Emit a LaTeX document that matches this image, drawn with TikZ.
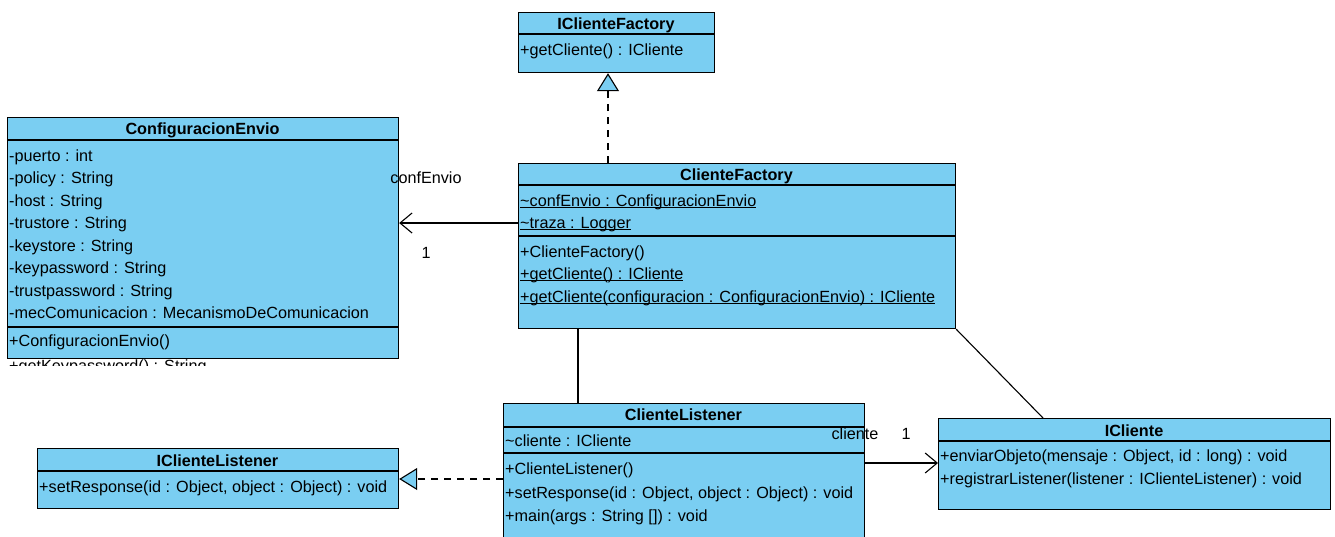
\documentclass[tikz,border=0pt]{standalone}
\usepackage{fontspec}
\setmainfont{Liberation Sans}
\usetikzlibrary{arrows.meta}
\definecolor{boxblue}{RGB}{122,206,242}
\tikzset{
  umlbox/.style={draw=black, fill=boxblue, line width=1.2pt, anchor=north west, inner sep=0pt},
  sep/.style={line width=1.2pt},
  txt/.style={anchor=base west, inner sep=0pt, font=\fontsize{16.2}{18}\selectfont},
  hdr/.style={anchor=base, inner sep=0pt, font=\fontsize{16.2}{18}\selectfont\bfseries},
  lbl/.style={anchor=base, inner sep=0pt, font=\fontsize{16.2}{18}\selectfont},
  conn/.style={line width=1.1pt},
  assoc/.style={conn, -{Straight Barb[length=12pt,width=20pt,line width=1.1pt]}},
  real/.style={conn, dash pattern=on 7pt off 6pt, -{Triangle[length=18pt,width=22pt,fill=boxblue,line width=1.1pt]}},
}
\begin{document}
\begin{tikzpicture}[x=1pt,y=-1pt]
\useasboundingbox (0,0) rectangle (1335,536);
\clip (0,0) rectangle (1335,536);

% ConfiguracionEnvio
\node[umlbox, minimum width=391pt, minimum height=241pt] (ce) at (7,117) {};
\draw[sep] (7,140) -- (398,140);
\draw[sep] (7,327) -- (398,327);
\node[hdr] (ceh) at (202.5,134) {ConfiguracionEnvio};
\node[txt] (ce1) at (9,161) {-puerto : int};
\node[txt] (ce2) at (9,183) {-policy : String};
\node[txt] (ce3) at (9,206) {-host : String};
\node[txt] (ce4) at (9,228) {-trustore : String};
\node[txt] (ce5) at (9,251) {-keystore : String};
\node[txt] (ce6) at (9,273) {-keypassword : String};
\node[txt] (ce7) at (9,296) {-trustpassword : String};
\node[txt] (ce8) at (9,318) {-mecComunicacion : MecanismoDeComunicacion};
\node[txt] (ce9) at (9,346) {+ConfiguracionEnvio()};
\begin{scope}
\clip (0,359) rectangle (400,365);
\node[txt] (ce10) at (9,371) {+getKeypassword() : String};
\end{scope}

% IClienteFactory
\node[umlbox, minimum width=196pt, minimum height=60pt] (icf) at (518,12) {};
\draw[sep] (518,34) -- (714,34);
\node[hdr] (icfh) at (616,29) {IClienteFactory};
\node[txt] (icf1) at (520,55) {+getCliente() : ICliente};

% ClienteFactory
\node[umlbox, minimum width=437pt, minimum height=165pt] (cf) at (518,163) {};
\draw[sep] (518,185) -- (955,185);
\draw[sep] (518,236) -- (955,236);
\node[hdr] (cfh) at (736.5,180) {ClienteFactory};
\node[txt] (cf1) at (520,206) {\underline{\smash{\char`\~confEnvio : ConfiguracionEnvio}}};
\node[txt] (cf2) at (520,228) {\underline{\smash{\char`\~traza : Logger}}};
\node[txt] (cf3) at (520,257) {+ClienteFactory()};
\node[txt] (cf4) at (520,279) {\underline{\smash{+getCliente() : ICliente}}};
\node[txt] (cf5) at (520,302) {\underline{\smash{+getCliente(configuracion : ConfiguracionEnvio) : ICliente}}};

% ClienteListener
\node[umlbox, minimum width=361pt, minimum height=150pt] (cl) at (503,403) {};
\draw[sep] (503,427) -- (864,427);
\draw[sep] (503,453) -- (864,453);
\node[hdr] (clh) at (683.5,420) {ClienteListener};
\node[txt] (cl1) at (505,446) {\char`\~cliente : ICliente};
\node[txt] (cl2) at (505,474) {+ClienteListener()};
\node[txt] (cl3) at (505,498) {+setResponse(id : Object, object : Object) : void};
\node[txt] (cl4) at (505,521) {+main(args : String []) : void};

% ICliente
\node[umlbox, minimum width=392pt, minimum height=91pt] (ic) at (938,418) {};
\draw[sep] (938,441) -- (1330,441);
\node[hdr] (ich) at (1134,436) {ICliente};
\node[txt] (ic1) at (940,461) {+enviarObjeto(mensaje : Object, id : long) : void};
\node[txt] (ic2) at (940,484) {+registrarListener(listener : IClienteListener) : void};

% IClienteListener
\node[umlbox, minimum width=361pt, minimum height=60pt] (icl) at (37,448) {};
\draw[sep] (37,471) -- (398,471);
\node[hdr] (iclh) at (217.5,466) {IClienteListener};
\node[txt] (icl1) at (39,492) {+setResponse(id : Object, object : Object) : void};

% connectors
\draw[real] ([xshift=90pt]cf.north west) -- ([xshift=90pt]icf.south west);
\draw[assoc] ([yshift=-60pt]cf.north west) coordinate (pa) -- (pa -| ce.east);
\draw[conn] ([xshift=60pt]cf.south west) -- ([xshift=75pt]cl.north west);
\draw[conn] (cf.south east) -- ([xshift=105pt]ic.north west);
\draw[assoc] ([yshift=-60pt]cl.north east) coordinate (pb) -- (pb -| ic.west);
\draw[real] ([yshift=-76pt]cl.north west) coordinate (pc) -- (pc -| icl.east);

% labels
\node[lbl] (l1) at (426,183) {confEnvio};
\node[lbl] (l2) at (426,258) {1};
\node[lbl] (l3) at (855,439) {cliente};
\node[lbl] (l4) at (906,439) {1};
\end{tikzpicture}
\end{document}
